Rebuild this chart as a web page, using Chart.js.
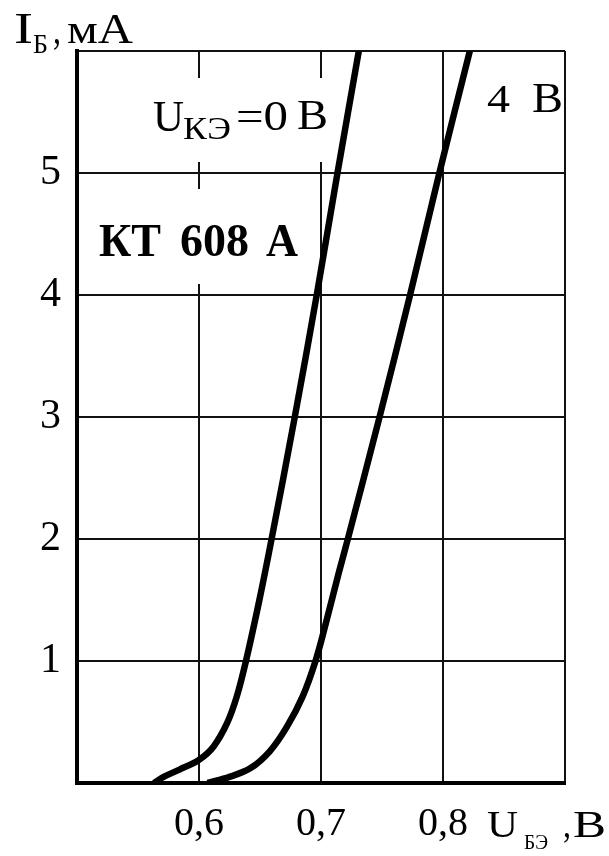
<!DOCTYPE html>
<html lang="ru">

<head>
  <meta charset="UTF-8" />
  <title>КТ 608 А — входные характеристики</title>
  <script src="https://cdn.jsdelivr.net/npm/chart.js"></script>
  <style>
    body {
      margin: 0;
      background: #fff;
    }

    canvas {
      display: block;
    }
  </style>
</head>

<body>
  <canvas id="vahChart" width="609" height="856"></canvas>

  <script>
    // U_БЭ (В) и I_Б (мА)
    const u0X = [0.563, 0.571, 0.584, 0.600, 0.612, 0.623, 0.631, 0.6385, 0.6495, 0.6595, 0.6785, 0.6965, 0.7135, 0.731];
    const u0Y = [0, 0.05, 0.11, 0.19, 0.30, 0.49, 0.71, 1.0, 1.5, 2.0, 3.0, 4.0, 5.0, 6.0];
    const u4X = [0.607, 0.625, 0.642, 0.658, 0.672, 0.685, 0.6955, 0.704, 0.7145, 0.722, 0.748, 0.773, 0.797, 0.822];
    const u4Y = [0, 0.05, 0.12, 0.26, 0.46, 0.71, 1.0, 1.31, 1.72, 2.0, 3.0, 4.0, 5.0, 6.0];

    const xTicks = [0.5, 0.6, 0.7, 0.8, 0.9];
    const xTickLabels = ['', '0,6', '0,7', '0,8', ''];
    const yTicks = [0, 1, 2, 3, 4, 5, 6];
    const yTickLabels = ['', '1', '2', '3', '4', '5', ''];

    const serif = 'Liberation Serif';

    // текст, растянутый по ширине как на скане
    function fitText(ctx, str, x, base, width, size, bold) {
      ctx.font = (bold ? 'bold ' : '') + size + 'px "' + serif + '"';
      const w = ctx.measureText(str).width;
      ctx.save();
      ctx.translate(x, base);
      ctx.scale(width / w, 1);
      ctx.textBaseline = 'alphabetic';
      ctx.textAlign = 'left';
      ctx.fillStyle = '#000';
      ctx.fillText(str, 0, 0);
      ctx.restore();
    }

    const labelsPlugin = {
      id: 'labels',
      beforeDatasetsDraw(chart) {
        const c = chart.ctx;
        c.save();
        c.fillStyle = '#fff';
        // разрывы сетки под надписями
        c.fillRect(148, 78, 184, 84);
        c.fillRect(94, 189, 208, 95);
        c.restore();
      },
      afterDraw(chart) {
        const c = chart.ctx;
        // подпись оси Y
        fitText(c, 'I', 14, 43, 19, 44);
        fitText(c, 'Б', 33, 53, 15, 28);
        fitText(c, ',', 53, 43, 8, 42);
        fitText(c, 'мА', 67, 43, 66, 42);
        // подпись оси X
        fitText(c, 'U', 487, 837, 31, 38);
        fitText(c, 'БЭ', 524, 849, 24, 22);
        fitText(c, ',', 563, 837, 8, 38);
        fitText(c, 'В', 573, 837, 33, 38);
        // кривые
        fitText(c, 'U', 153, 131, 31, 44);
        fitText(c, 'КЭ', 183, 139, 48, 32);
        fitText(c, '=0', 236, 130, 52, 42);
        fitText(c, 'В', 297, 129, 31, 42);
        fitText(c, '4', 487, 112, 23, 40);
        fitText(c, 'В', 532, 112, 31, 42);
        // транзистор
        fitText(c, 'КТ', 99, 256, 62, 46, true);
        fitText(c, '608', 180, 256, 69, 46, true);
        fitText(c, 'А', 266, 256, 32, 46, true);
      }
    };

    function curve(xs, ys) {
      return {
        data: xs.map((x, i) => ({ x, y: ys[i] })),
        showLine: true,
        borderColor: '#000',
        borderWidth: 6.5,
        pointRadius: 0,
        tension: 0.35,
        clip: 0
      };
    }

    const ctx = document.getElementById('vahChart').getContext('2d');

    new Chart(ctx, {
      type: 'scatter',
      data: {
        datasets: [curve(u0X, u0Y), curve(u4X, u4Y)]
      },
      options: {
        responsive: false,
        animation: false,
        events: [],
        layout: { padding: { top: 51, right: 44, left: 0, bottom: 0 } },
        plugins: {
          legend: { display: false },
          tooltip: { enabled: false }
        },
        scales: {
          x: {
            type: 'linear',
            min: 0.5,
            max: 0.9,
            afterBuildTicks: s => { s.ticks = xTicks.map(v => ({ value: v })); },
            afterFit: s => { s.height = 73; },
            grid: { color: '#111', lineWidth: 2, drawTicks: false },
            border: { color: '#000', width: 4 },
            ticks: {
              padding: 17,
              color: '#000',
              font: { family: serif, size: 40 },
              callback: (v, i) => xTickLabels[i]
            }
          },
          y: {
            type: 'linear',
            min: 0,
            max: 6,
            afterBuildTicks: s => { s.ticks = yTicks.map(v => ({ value: v })); },
            afterFit: s => { s.width = 77; },
            grid: { color: '#111', lineWidth: 2, drawTicks: false },
            border: { color: '#000', width: 4 },
            ticks: {
              padding: 16,
              color: '#000',
              font: { family: serif, size: 42 },
              callback: (v, i) => yTickLabels[i]
            }
          }
        }
      },
      plugins: [labelsPlugin]
    });
  </script>
</body>

</html>
